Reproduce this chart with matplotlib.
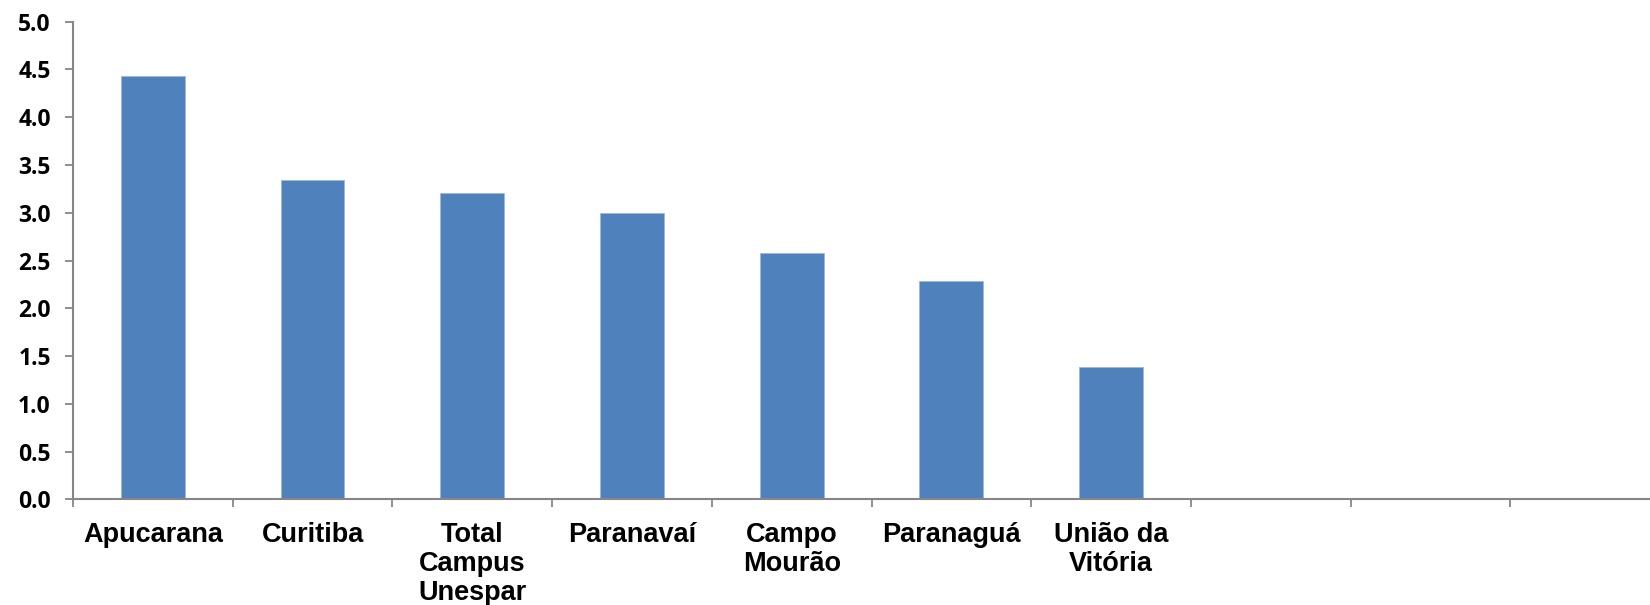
import matplotlib
matplotlib.use('Agg')
import matplotlib.pyplot as plt
import numpy as np

categories = ['Apucarana', 'Curitiba', 'Total\nCampus\nUnespar', 'Paranavaí',
              'Campo\nMourão', 'Paranaguá', 'União da\nVitória', '', '', '']
values = [4.43, 3.34, 3.21, 3.00, 2.58, 2.29, 1.38]
yticks = np.arange(0, 5.01, 0.5)

axis_grey = '#868686'
bar_blue = '#4F81BD'

fig = plt.figure(figsize=(16.5, 6.05), dpi=100)
# axis runs past the right edge, like the original
ax = fig.add_axes([0.0442, 0.1747, 0.968, 0.7894])

n = len(categories)
ax.bar(np.arange(len(values)) + 0.5, values, width=0.4, color=bar_blue,
       edgecolor='#9db8da', linewidth=0.6, zorder=2)

ax.set_xlim(0, n)
ax.set_ylim(0, 5)

# x ticks at category boundaries, labels centred in each slot
ax.set_xticks(np.arange(n + 1))
ax.set_xticklabels([])
ax.set_xticks(np.arange(n) + 0.5, minor=True)
ax.set_xticklabels(categories, minor=True, fontfamily='Liberation Sans',
                   fontweight='bold', fontsize=19.5, linespacing=1.14, va='top')
ax.tick_params(axis='x', which='minor', length=0, pad=16.5)
ax.tick_params(axis='x', which='major', length=5.5, width=1.3, color=axis_grey,
               direction='out')

ax.set_yticks(yticks)
ax.set_yticklabels(['%.1f' % t for t in yticks], fontfamily='Open Sans',
                   fontweight='bold', fontsize=16.5)
ax.tick_params(axis='y', length=6, width=1.3, color=axis_grey, pad=10)

for side in ['top', 'right']:
    ax.spines[side].set_visible(False)
for side in ['left', 'bottom']:
    ax.spines[side].set_color(axis_grey)
    ax.spines[side].set_linewidth(1.5)

fig.savefig('out.png', dpi=100)
